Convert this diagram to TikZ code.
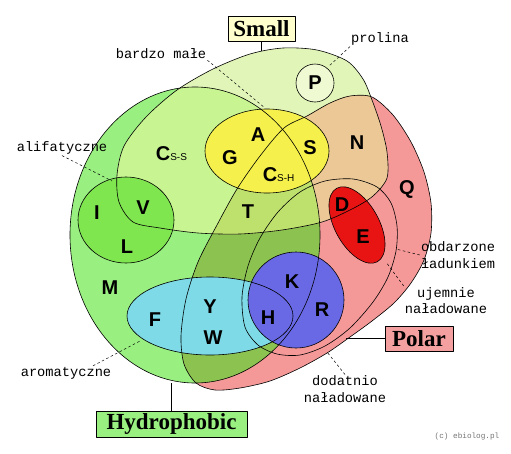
\documentclass[tikz,border=0pt]{standalone}
\usepackage{fontspec}
\setmainfont{Liberation Serif}
\setsansfont{Liberation Sans}
\setmonofont{Liberation Mono}
\usepackage{tikz}
\usetikzlibrary{arrows.meta}
\definecolor{hydroGreen}{RGB}{153,240,128}
\definecolor{smallGreen}{RGB}{226,245,184}
\definecolor{polarPink}{RGB}{245,152,152}
\definecolor{smallHydro}{RGB}{200,245,145}
\definecolor{smallPolar}{RGB}{235,200,150}
\definecolor{hydroPolar}{RGB}{140,195,80}
\definecolor{allThree}{RGB}{190,225,110}
\definecolor{alifGreen}{RGB}{128,230,80}
\definecolor{tinyYellow}{RGB}{245,240,75}
\definecolor{prolinaFill}{RGB}{240,250,210}
\definecolor{aromCyan}{RGB}{125,218,230}
\definecolor{plusBlue}{RGB}{105,105,230}
\definecolor{minusRed}{RGB}{232,20,20}
\definecolor{smallBoxFill}{RGB}{255,255,205}
\definecolor{polarBoxFill}{RGB}{245,160,160}
\tikzset{
	region/.style   = {draw=black, line width=0.6pt},
	setbox/.style   = {draw, line width=0.8pt, rectangle,
		font=\fontsize{23}{23}\selectfont\bfseries,
		inner sep=0pt, minimum height=25pt},
	aa/.style       = {font=\fontsize{20}{20}\selectfont\sffamily\bfseries, inner sep=0pt},
	note/.style     = {font=\fontsize{13.7}{16.5}\selectfont\ttfamily, align=center, inner sep=1pt},
	leader/.style   = {line width=0.5pt, dash pattern=on 2.5pt off 2.5pt},
	link/.style     = {line width=0.8pt},
}
\newcommand{\sub}[1]{{\fontsize{10}{10}\selectfont\mdseries #1}}
\newcommand{\hydroShape}{(195,235) ellipse (125 and 148)}
\newcommand{\smallShape}{plot[smooth cycle] coordinates {(117,175) (124,146) (146,117) (177,90) (213,69) (250,54) (283,48) (317,50) (347,61) (363,79) (372,100) (381,126) (387,152) (387,178) (373,196) (352,209) (322,222) (282,230) (240,234) (198,233) (160,228) (133,222) (119,202)}}
\newcommand{\polarShape}{plot[smooth cycle] coordinates {(307,116) (330,103) (350,96) (372,97) (393,115) (411,142) (424,172) (431,203) (431,233) (424,260) (411,283) (394,303) (372,321) (350,337) (327,353) (300,368) (270,381) (240,388) (215,390) (196,383) (184,364) (181,336) (186,299) (198,262) (217,225) (237,189) (260,156) (284,128)}}
\newcommand{\chargedShape}{plot[smooth cycle] coordinates {(325,181) (353,179) (377,187) (391,203) (397,226) (396,251) (388,277) (373,302) (350,328) (325,346) (300,355) (277,354) (258,345) (245,327) (242,297) (248,266) (260,238) (278,212) (300,192)}}
\newcommand{\alifShape}{(126,220) ellipse (48 and 43)}
\newcommand{\tinyShape}{(267,151) ellipse (62 and 42)}
\newcommand{\prolinaShape}{(315,83) circle (19)}
\newcommand{\aromShape}{(210,316) ellipse (83 and 39)}
\newcommand{\plusShape}{(296,300) circle (48)}

\begin{document}
\begin{tikzpicture}[x=1pt, y=-1pt,         %<--one unit is one pixel of the sketch
                    line join=round]        %<--smooth corners on the outlines
    \useasboundingbox (0,0) rectangle (511,453);

    %Filling the three big sets:
    \fill[hydroGreen] \hydroShape;
    \fill[smallGreen] \smallShape;
    \fill[polarPink] \polarShape;
    %Filling the overlaps:
    \begin{scope}
        \clip \hydroShape;
        \fill[hydroPolar] \polarShape;
    \end{scope}
    \begin{scope}
        \clip \smallShape;
        \fill[smallHydro] \hydroShape;
        \fill[smallPolar] \polarShape;
        \clip \hydroShape;
        \fill[allThree] \polarShape;
    \end{scope}
    %Filling the small groups:
    \fill[alifGreen] \alifShape;
    \fill[tinyYellow] \tinyShape;
    \fill[prolinaFill] \prolinaShape;
    \fill[aromCyan] \aromShape;
    \fill[plusBlue] \plusShape;
    \fill[minusRed, rotate around={-61:(357,225)}] (357,225) ellipse (42 and 22);

    %Drawing all outlines on top:
    \draw[region] \hydroShape;
    \draw[region] \smallShape;
    \draw[region] \polarShape;
    \draw[region] \chargedShape;
    \draw[region] \alifShape;
    \draw[region] \tinyShape;
    \draw[region] \prolinaShape;
    \draw[region] \aromShape;
    \draw[region] \plusShape;
    \draw[region, rotate around={-61:(357,225)}] (357,225) ellipse (42 and 22);

    \draw%-----------------------------------------------------------------------------------------
        %Drawing the set boxes:
        node(SmallBox) at (261.5,28.5) [setbox, fill=smallBoxFill, minimum width=67pt] {Small}
        node(HydroBox) at (171.5,424) [setbox, fill=hydroGreen, minimum width=151pt, minimum height=26pt] {Hydrophobic}
        node(PolarBox) at (419,338.5) [setbox, fill=polarBoxFill, minimum width=68pt] {Polar}
        node[shape=coordinate][](SmallTop) at (261.5,51){}
        node[shape=coordinate][](HydroBottom) at (171.5,383){}
        node[shape=coordinate][](PolarEdge) at (346,338.5){}
        %Drawing the amino acids:
        node(aaP) at (315,83) [aa] {P}
        node(aaA) at (258,135) [aa] {A}
        node(aaG) at (230,158) [aa] {G}
        node(aaS) at (310,148) [aa] {S}
        node(aaCsh) at (278.6,175) [aa] {C\sub{S-H}}
        node(aaCss) at (171.4,154) [aa] {C\sub{S-S}}
        node(aaN) at (357,143) [aa] {N}
        node(aaQ) at (407,189) [aa] {Q}
        node(aaD) at (342,205) [aa] {D}
        node(aaE) at (363,237) [aa] {E}
        node(aaT) at (248,212) [aa] {T}
        node(aaI) at (97,213) [aa] {I}
        node(aaV) at (143,208) [aa] {V}
        node(aaL) at (127,247) [aa] {L}
        node(aaM) at (110,288) [aa] {M}
        node(aaF) at (155,320) [aa] {F}
        node(aaY) at (210,307) [aa] {Y}
        node(aaW) at (213,338) [aa] {W}
        node(aaK) at (292,282) [aa] {K}
        node(aaH) at (268,318) [aa] {H}
        node(aaR) at (322,310) [aa] {R}
        %Drawing the group names:
        node(bardzoLabel) at (161,54) [note] {bardzo małe}
        node(prolinaLabel) at (380,39) [note] {prolina}
        node(alifLabel) at (62,148) [note] {alifatyczne}
        node(aromLabel) at (66,373) [note] {aromatyczne}
        node(chargedLabel) at (458,255) [note] {obdarzone\\ładunkiem}
        node(minusLabel) at (446,300.5) [note] {ujemnie\\naładowane}
        node(plusLabel) at (345,389) [note] {dodatnio\\naładowane}
        node(copyLabel) at (467,437) [note, font=\fontsize{7.7}{8}\selectfont\ttfamily, text=black!55] {(c) ebiolog.pl}
        %Drawing the leader ends:
        node[shape=coordinate][](bardzoTip) at (265,108){}
        node[shape=coordinate][](prolinaTip) at (329,66){}
        node[shape=coordinate][](alifTip) at (112,181){}
        node[shape=coordinate][](aromTip) at (140,341){}
        node[shape=coordinate][](chargedTip) at (396,249){}
        node[shape=coordinate][](minusTip) at (386,262){}
        node[shape=coordinate][](plusTip) at (327,352){}
    ;%---------------------------------------------------------------------------------------------

    %Joining the boxes to their sets
    \draw[link] (SmallBox) -- (SmallTop);
    \draw[link] (HydroBox) -- (HydroBottom);
    \draw[link] (PolarBox) -- (PolarEdge);

    %Leaders to the groups
    \draw[leader] (bardzoLabel.south east) -- (bardzoTip);
    \draw[leader] (prolinaLabel.south west) -- (prolinaTip);
    \draw[leader] (alifLabel.south) -- (alifTip);
    \draw[leader] ([xshift=27pt]aromLabel.north) -- (aromTip);
    \draw[leader] (chargedLabel.west) -- (chargedTip);
    \draw[leader] (minusLabel.north west) -- (minusTip);
    \draw[leader] (plusLabel.north) -- (plusTip);
\end{tikzpicture}
\end{document}
